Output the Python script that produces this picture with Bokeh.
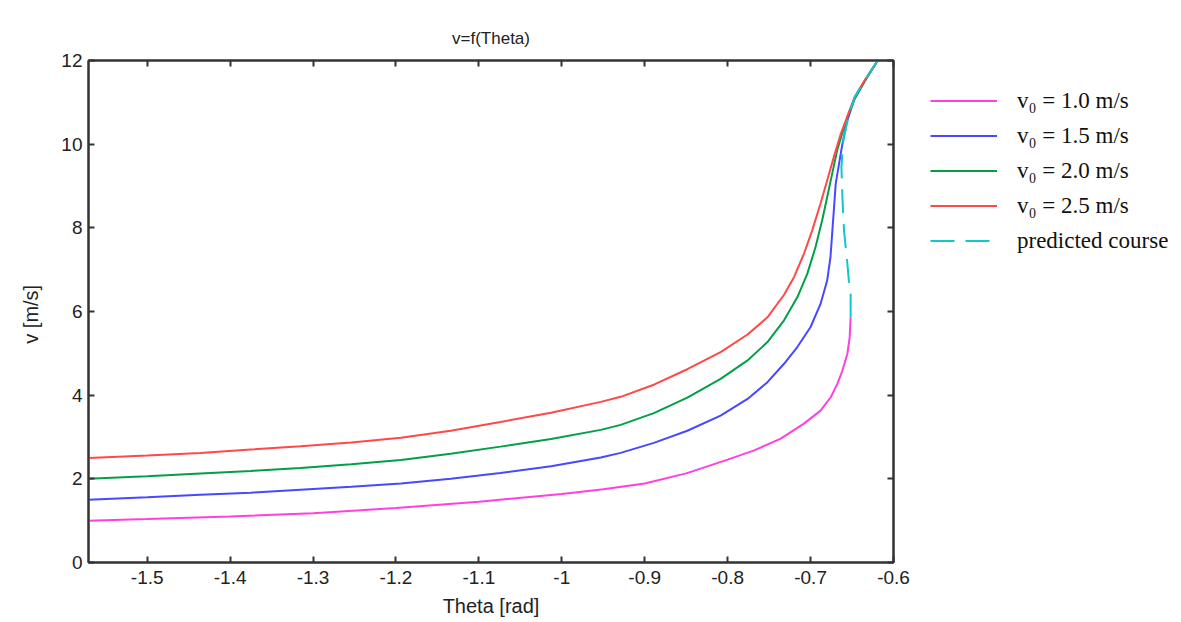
import math
from bokeh.plotting import figure
from bokeh.layouts import row
from bokeh.models import (Legend, LegendItem, LinearAxis, FixedTicker, Range1d,
                          CustomJSTickFormatter)
from bokeh.embed import file_html
from bokeh.resources import INLINE

# ---- data ----
theta_m = [-1.5708, -1.50, -1.40, -1.30, -1.20, -1.10, -1.00, -0.95, -0.90, -0.85,
           -0.80, -0.768, -0.736, -0.708, -0.688, -0.6757, -0.6677, -0.6616, -0.6556,
           -0.6528, -0.6518]
v_m = [1.00, 1.04, 1.10, 1.18, 1.30, 1.45, 1.64, 1.75, 1.89, 2.13,
       2.46, 2.68, 2.96, 3.32, 3.63, 3.95, 4.27, 4.59, 4.99,
       5.39, 5.85]

theta_b = [-1.5708, -1.50, -1.436, -1.375, -1.315, -1.254, -1.194, -1.134, -1.074,
           -1.013, -0.953, -0.929, -0.889, -0.8486, -0.8085, -0.776, -0.752, -0.732,
           -0.716, -0.700, -0.688, -0.680, -0.676, -0.6737, -0.6717, -0.6697, -0.6657,
           -0.6616, -0.656, -0.647, -0.635, -0.619]
v_b = [1.50, 1.56, 1.62, 1.67, 1.74, 1.81, 1.89, 2.00, 2.14,
       2.30, 2.51, 2.62, 2.86, 3.15, 3.51, 3.91, 4.31, 4.75,
       5.15, 5.63, 6.18, 6.74, 7.30, 7.94, 8.49, 9.05, 9.53,
       10.01, 10.55, 11.08, 11.50, 12.0]

theta_g = [-1.5708, -1.50, -1.436, -1.375, -1.315, -1.254, -1.194, -1.134, -1.074,
           -1.013, -0.953, -0.929, -0.889, -0.8486, -0.8085, -0.776, -0.752, -0.732,
           -0.716, -0.704, -0.694, -0.686, -0.680, -0.674, -0.668, -0.662, -0.656,
           -0.647, -0.635, -0.619]
v_g = [2.00, 2.06, 2.13, 2.19, 2.26, 2.35, 2.45, 2.60, 2.77,
       2.95, 3.17, 3.29, 3.57, 3.94, 4.39, 4.83, 5.27, 5.79,
       6.34, 6.90, 7.54, 8.18, 8.73, 9.29, 9.85, 10.25, 10.62,
       11.08, 11.50, 12.0]

theta_r = [-1.5708, -1.50, -1.436, -1.375, -1.315, -1.254, -1.194, -1.134, -1.074,
           -1.013, -0.953, -0.929, -0.889, -0.8486, -0.8085, -0.776, -0.752, -0.732,
           -0.720, -0.708, -0.698, -0.688, -0.680, -0.672, -0.664, -0.656, -0.647,
           -0.635, -0.619]
v_r = [2.50, 2.56, 2.62, 2.70, 2.78, 2.87, 2.98, 3.15, 3.36,
       3.58, 3.84, 3.96, 4.25, 4.62, 5.03, 5.45, 5.86, 6.40,
       6.82, 7.38, 7.94, 8.58, 9.13, 9.69, 10.22, 10.65, 11.12,
       11.52, 12.0]

theta_c = [-0.6517, -0.6517, -0.6537, -0.6556, -0.6597, -0.6616, -0.6628, -0.6605,
           -0.6545, -0.647, -0.635, -0.619]
v_c = [5.85, 6.45, 6.70, 7.14, 7.94, 8.73, 9.45, 10.09, 10.65, 11.12, 11.52, 12.0]

labels = ["v\u2080 = 1.0 m/s", "v\u2080 = 1.5 m/s", "v\u2080 = 2.0 m/s",
          "v\u2080 = 2.5 m/s", "predicted course"]
colors = ["#ff40e0", "#4848ff", "#00a046", "#ff4848", "#10c8c8"]
dashes = ["solid", "solid", "solid", "solid", "24 11"]

x_ticks = [-1.5, -1.4, -1.3, -1.2, -1.1, -1.0, -0.9, -0.8, -0.7, -0.6]
x_tick_labels = ["-1.5", "-1.4", "-1.3", "-1.2", "-1.1", "-1", "-0.9", "-0.8", "-0.7", "-0.6"]
y_ticks = [0, 2, 4, 6, 8, 10, 12]

AX = "#333333"
SANS = "Liberation Sans"
TOP, FH, BOT = 60, 502, 56
H = TOP + FH + BOT

p = figure(frame_width=805, frame_height=FH,
           x_range=Range1d(-math.pi / 2, -0.6), y_range=Range1d(0, 12),
           output_backend="svg", toolbar_location=None,
           min_border_left=88, min_border_top=TOP, min_border_bottom=BOT,
           min_border_right=20, title="v=f(Theta)")
p.background_fill_color = "white"
p.grid.visible = False
p.outline_line_color = AX
p.outline_line_width = 2

p.title.align = "center"
p.title.text_font = SANS
p.title.text_font_size = "17px"
p.title.text_font_style = "normal"
p.title.text_color = "#222222"
p.title.standoff = 26

def style_axis(ax):
    ax.axis_line_color = AX
    ax.axis_line_width = 2
    ax.major_tick_line_color = AX
    ax.major_tick_line_width = 2
    ax.major_tick_in = 6
    ax.major_tick_out = 0
    ax.minor_tick_line_color = None
    ax.major_label_text_font = SANS
    ax.major_label_text_font_size = "19px"
    ax.major_label_text_color = "#222222"
    ax.axis_label_text_font = SANS
    ax.axis_label_text_font_size = "20px"
    ax.axis_label_text_font_style = "normal"
    ax.axis_label_text_color = "#222222"

xa = p.xaxis[0]
xa.ticker = FixedTicker(ticks=x_ticks)
xa.major_label_overrides = {t: s for t, s in zip(x_ticks, x_tick_labels)}
xa.axis_label = "Theta [rad]"
style_axis(xa)
xa.major_label_standoff = 8
xa.axis_label_standoff = 8

ya = p.yaxis[0]
ya.ticker = FixedTicker(ticks=y_ticks)
ya.axis_label = "v  [m/s]"
style_axis(ya)
ya.major_label_standoff = 6
ya.axis_label_standoff = 16

top = LinearAxis(ticker=FixedTicker(ticks=x_ticks),
                 formatter=CustomJSTickFormatter(code="return ''"))
style_axis(top)
top.major_label_standoff = 0
p.add_layout(top, "above")

right = LinearAxis(ticker=FixedTicker(ticks=y_ticks),
                   formatter=CustomJSTickFormatter(code="return ''"))
style_axis(right)
right.major_label_standoff = 0
p.add_layout(right, "right")

series = [(theta_m, v_m), (theta_b, v_b), (theta_g, v_g), (theta_r, v_r), (theta_c, v_c)]
for (tx, vy), c, d in zip(series, colors, dashes):
    p.line(tx, vy, line_color=c, line_width=2, line_dash=d)

# ---- legend panel to the right of the plot ----
main_w = 88 + 805 + 20
ROW_H = 35
p2 = figure(width=1180 - main_w, height=H, x_axis_type=None, y_axis_type=None,
            output_backend="svg", toolbar_location=None,
            min_border_left=0, min_border_top=TOP,
            min_border_right=0, min_border_bottom=BOT,
            x_range=Range1d(0, 1), y_range=Range1d(0, 1))
p2.outline_line_color = None
p2.grid.visible = False
p2.background_fill_color = "white"
p2.border_fill_color = "white"

items = []
for lab, (tx, vy), c, d in zip(labels, series, colors, dashes):
    # same series, out of this panel's range: only its legend swatch shows
    r = p2.line(tx, vy, line_color=c, line_width=2, line_dash=d)
    items.append(LegendItem(label=lab, renderers=[r]))

legend = Legend(items=items,
                location=(930 - main_w, FH - 24 - len(labels) * ROW_H),
                border_line_color=None, background_fill_alpha=0,
                label_text_font="Liberation Serif", label_text_font_size="23px",
                label_text_color="#111111",
                glyph_width=67, glyph_height=ROW_H, label_height=ROW_H, spacing=0,
                label_standoff=20, padding=0, margin=0)
p2.add_layout(legend, "center")

layout = row(p, p2)
open("out.html", "w").write(file_html(layout, INLINE))
